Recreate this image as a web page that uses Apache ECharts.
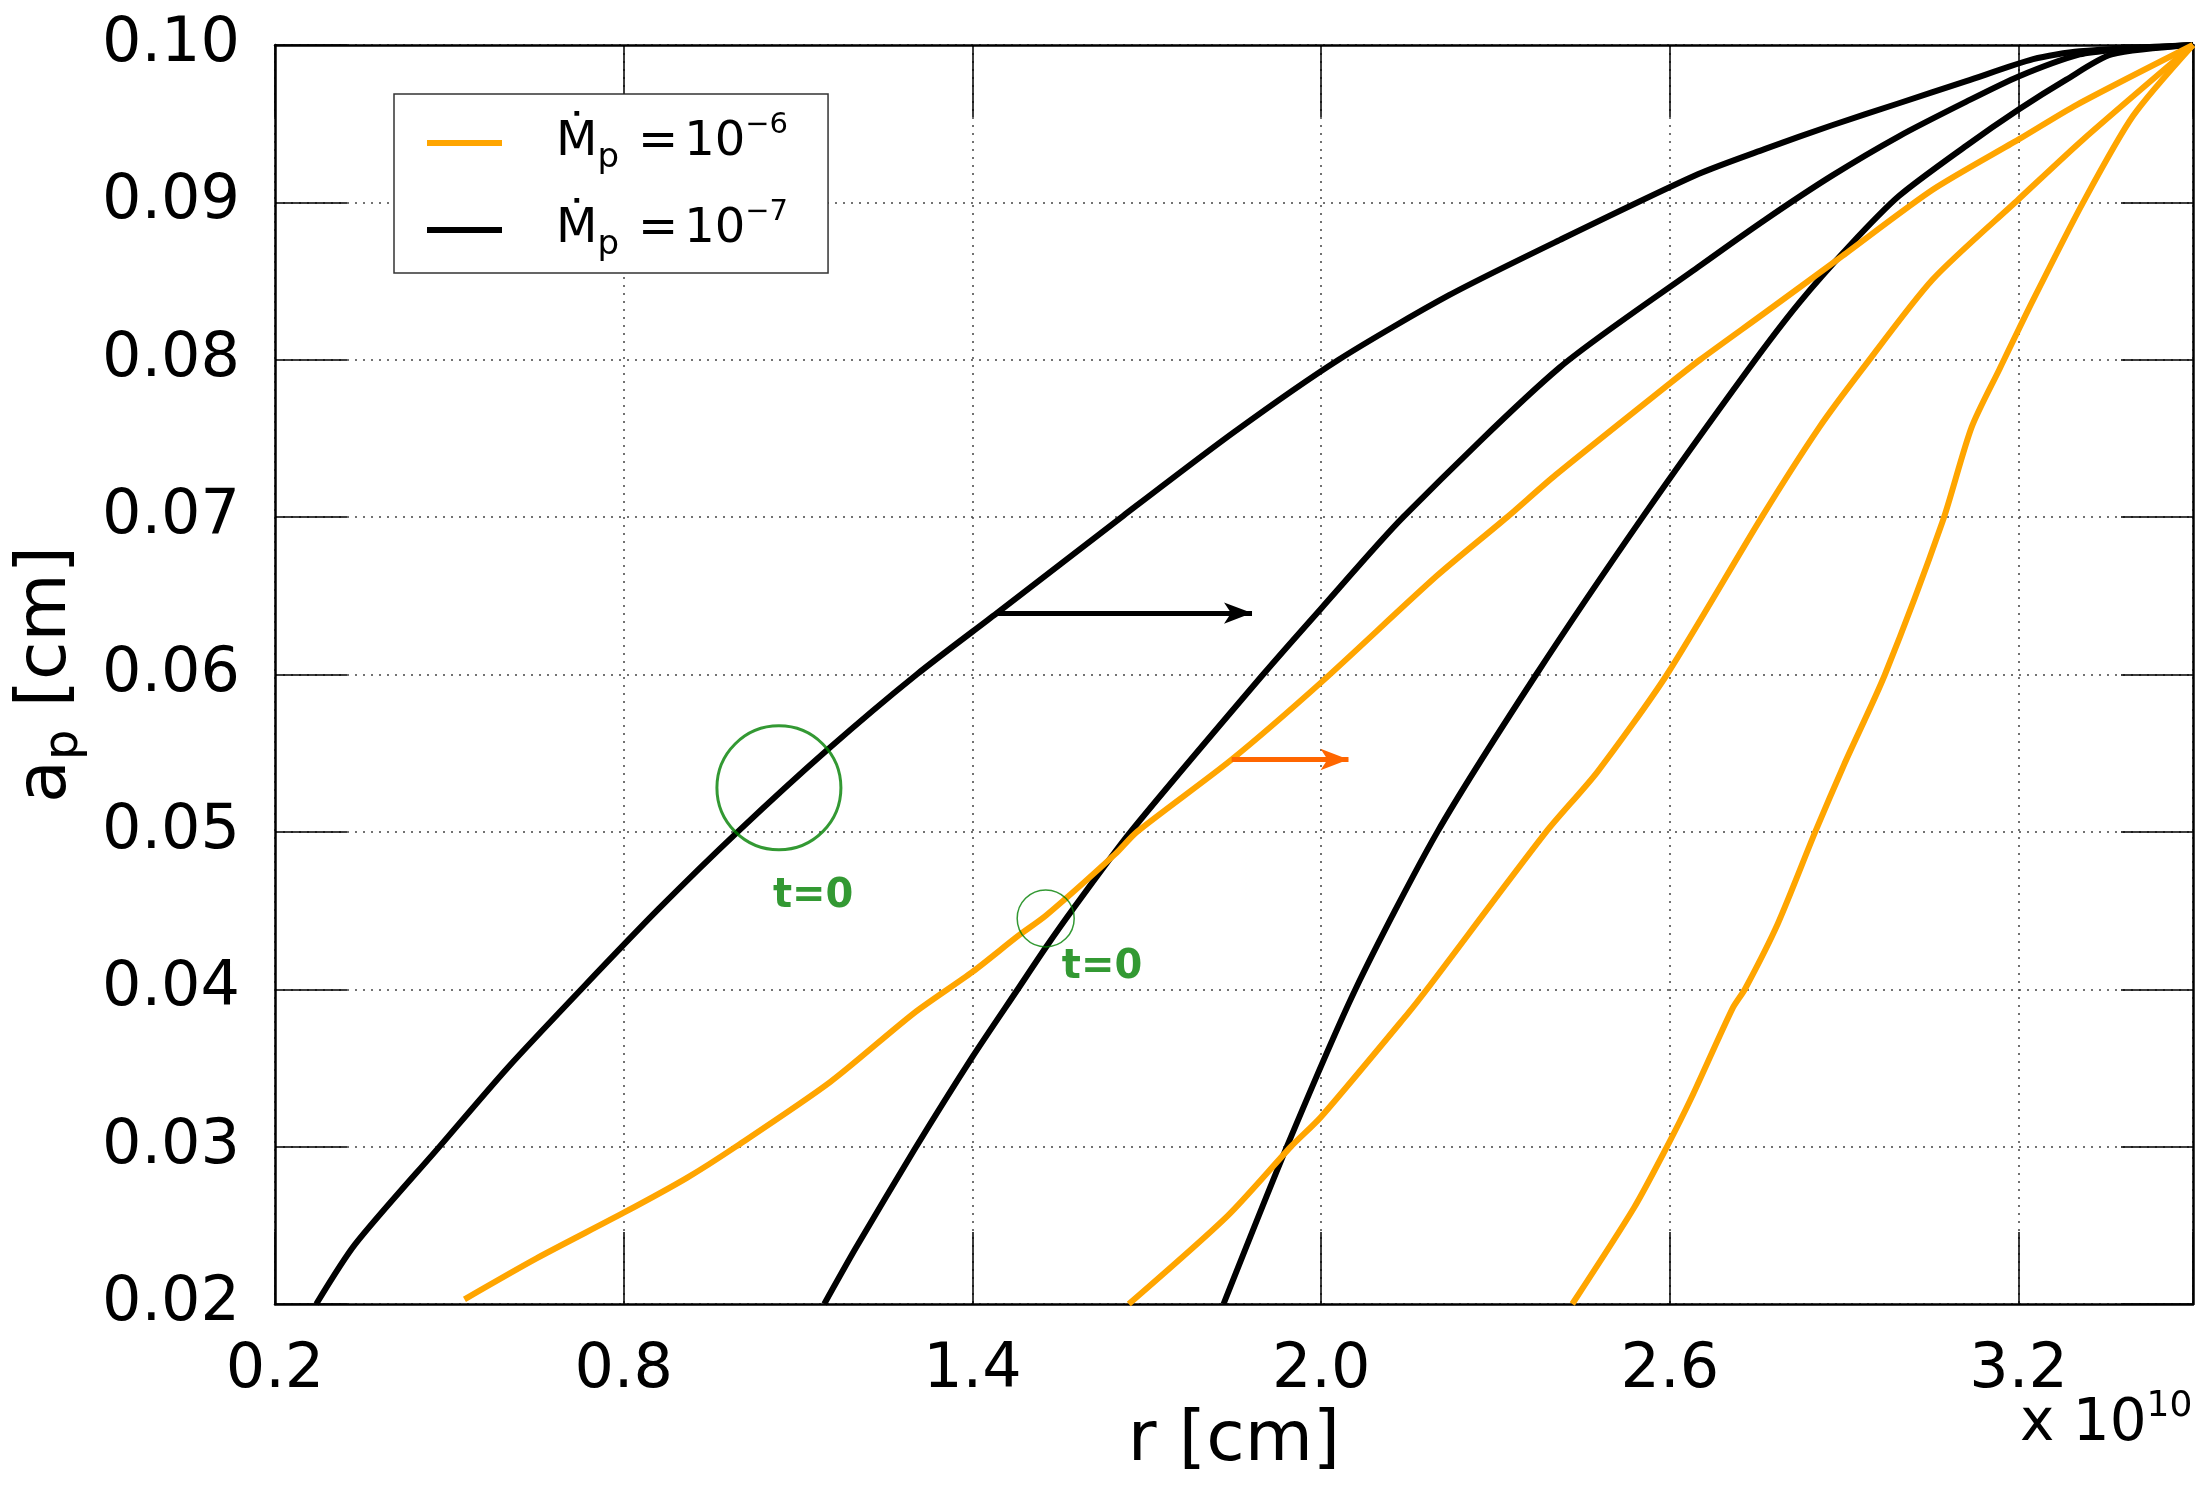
<!DOCTYPE html>
<html>
<head>
<meta charset="utf-8">
<title>a_p vs r</title>
<script src="https://cdn.jsdelivr.net/npm/echarts@6/dist/echarts.min.js"></script>
<style>
  html, body { margin: 0; padding: 0; background: #fff; }
  #chart { width: 2209px; height: 1493px; }
</style>
</head>
<body>
<div id="chart"></div>
<script>
// r in units of 1e10 cm, a_p in cm
// Mdot_p = 1e-7 (black)
const black1 = [[0.271, 0.020], [0.338, 0.0238], [0.483, 0.030], [0.60, 0.0350], [0.727, 0.040],
  [0.86, 0.0451], [0.996, 0.050], [1.15, 0.0552], [1.304, 0.060], [1.442, 0.0639], [1.66, 0.0701],
  [1.85, 0.0754], [2.03, 0.0800], [2.22, 0.0841], [2.41, 0.0876], [2.649, 0.0918], [2.764, 0.0934],
  [2.879, 0.0949], [2.994, 0.0963], [3.11, 0.0977], [3.225, 0.0991], [3.305, 0.0996], [3.5, 0.100]]
const black2 = [[1.145, 0.020], [1.20, 0.0236], [1.30, 0.0298], [1.40, 0.0357], [1.478, 0.040],
  [1.527, 0.0427], [1.573, 0.0451], [1.672, 0.050], [1.90, 0.060], [2.0, 0.0642], [2.141, 0.070],
  [2.41, 0.0795], [2.649, 0.0859], [2.764, 0.0889], [2.879, 0.0917], [2.994, 0.0942], [3.11, 0.0964],
  [3.2, 0.098], [3.305, 0.0994], [3.37, 0.0997], [3.5, 0.100]]
const black3 = [[1.832, 0.020], [1.941, 0.030], [2.059, 0.040], [2.2, 0.050], [2.37, 0.060],
  [2.553, 0.070], [2.735, 0.0794], [2.822, 0.0836], [2.908, 0.0872], [2.994, 0.0904], [3.11, 0.0936],
  [3.2, 0.0959], [3.282, 0.0978], [3.36, 0.0994], [3.5, 0.100]]
// Mdot_p = 1e-6 (orange)
const orange1 = [[0.526, 0.0203], [0.65, 0.0229], [0.80, 0.0258], [0.908, 0.028], [0.993, 0.030],
  [1.155, 0.0341], [1.30, 0.0385], [1.40, 0.0411], [1.479, 0.0434], [1.527, 0.0447], [1.646, 0.0486],
  [1.683, 0.050], [1.846, 0.0546], [2.0, 0.0595], [2.2, 0.0663], [2.32, 0.070], [2.404, 0.0727],
  [2.6, 0.0785], [2.652, 0.080], [2.764, 0.083], [2.897, 0.0866], [3.052, 0.0908], [3.2, 0.094],
  [3.3, 0.0962], [3.5, 0.100]]
const orange2 = [[1.669, 0.020], [1.839, 0.0256], [1.948, 0.030], [2.0, 0.0319], [2.15, 0.0385],
  [2.182, 0.040], [2.387, 0.050], [2.475, 0.0538], [2.595, 0.060], [2.758, 0.070], [2.857, 0.0757],
  [2.931, 0.0794], [3.052, 0.0851], [3.2, 0.0902], [3.311, 0.094], [3.5, 0.100]]
const orange3 = [[2.432, 0.020], [2.538, 0.0261], [2.595, 0.030], [2.637, 0.0331], [2.708, 0.0388],
  [2.729, 0.040], [2.786, 0.0442], [2.85, 0.050], [2.9, 0.0543], [2.97, 0.060], [3.069, 0.0697],
  [3.119, 0.0757], [3.167, 0.0794], [3.225, 0.0838], [3.311, 0.090], [3.397, 0.0955], [3.5, 0.100]]

// axes
const xMin = 0.2, xMax = 3.5, xStep = 0.6
const yMin = 0.02, yMax = 0.10, yStep = 0.01

// annotations (data coords)
const bigCircle = [1.067, 0.0528]
const smallCircle = [1.526, 0.0445]
const t0Labels = [[1.126, 0.0459], [1.623, 0.0414]]
const blackArrow = [[1.442, 0.0639], [1.881, 0.0639]]
const orangeArrow = [[1.846, 0.0546], [2.047, 0.0546]]

const FONT = 'DejaVu Sans'
const ORANGE = '#FFA500'
const GREEN = '#008000'
const legendExp = { p6: '\u22126', p7: '\u22127' }

const chart = echarts.init(document.getElementById('chart'))

function curve(name, data, color) {
  return {
    type: 'line', name, data,
    showSymbol: false, symbol: 'none',
    smooth: 0.25,
    lineStyle: { color, width: 6, join: 'round' },
    itemStyle: { color },
    silent: true, z: 3
  }
}

const axisCommon = {
  type: 'value',
  axisLine: { show: true, onZero: false, lineStyle: { color: '#000', width: 2.5 } },
  axisTick: { show: true, inside: true, length: 72, lineStyle: { color: '#000', width: 1.5 } },
  splitLine: { show: true, lineStyle: { color: '#444', width: 1.5, type: [2, 6] } }
}

const option = {
  animation: false,
  backgroundColor: '#fff',
  grid: { left: 275, right: 16, top: 45, bottom: 189, containLabel: false, outerBoundsMode: 'none' },
  xAxis: [
    {
      ...axisCommon, position: 'bottom', min: xMin, max: xMax, interval: xStep,
      axisLabel: {
        fontFamily: FONT, fontSize: 62, color: '#000', margin: 36,
        formatter: v => Math.abs(v - xMax) < 1e-6 ? '' : v.toFixed(1)
      },
      name: 'r [cm]', nameLocation: 'middle', nameGap: 101,
      nameTextStyle: { fontFamily: FONT, fontSize: 70, color: '#000' }
    },
    {
      ...axisCommon, position: 'top', min: xMin, max: xMax, interval: xStep,
      axisLabel: { show: false }, splitLine: { show: false }
    }
  ],
  yAxis: [
    {
      ...axisCommon, position: 'left', min: yMin, max: yMax, interval: yStep,
      axisLabel: { fontFamily: FONT, fontSize: 62, color: '#000', margin: 35, formatter: v => v.toFixed(2) },
      name: '{a|a}{p|p}{a| [cm]}', nameLocation: 'middle', nameGap: 186, nameRotate: 90,
      nameTextStyle: {
        fontFamily: FONT, fontSize: 70, color: '#000',
        rich: {
          a: { fontFamily: FONT, fontSize: 70, lineHeight: 84 },
          p: { fontFamily: FONT, fontSize: 48, lineHeight: 60, verticalAlign: 'bottom' }
        }
      }
    },
    {
      ...axisCommon, position: 'right', min: yMin, max: yMax, interval: yStep,
      axisLabel: { show: false }, splitLine: { show: false }
    }
  ],
  legend: {
    data: ['p6', 'p7'],
    orient: 'vertical', left: 394, top: 94,
    padding: [17, 40, 11, 33],
    itemGap: 23, itemWidth: 75, itemHeight: 6, icon: 'rect',
    backgroundColor: '#fff', borderColor: '#333', borderWidth: 1.5,
    selectedMode: false,
    textStyle: {
      fontFamily: FONT, fontSize: 48, color: '#000', lineHeight: 64,
      rich: {
        m: { fontFamily: FONT, fontSize: 48, lineHeight: 64, padding: [0, 0, 0, 49] },
        p: { fontFamily: FONT, fontSize: 34, lineHeight: 44, verticalAlign: 'bottom' },
        q: { fontFamily: FONT, fontSize: 48, lineHeight: 64, padding: [0, 6, 0, 19] },
        e: { fontFamily: FONT, fontSize: 48, lineHeight: 64 },
        s: { fontFamily: FONT, fontSize: 29, lineHeight: 40, verticalAlign: 'top' }
      }
    },
    formatter: name => '{m|\u1E40}{p|p}{q|=}{e|10}{s|' + legendExp[name] + '}'
  },
  graphic: [
    {
      type: 'text', x: 2020, y: 1425,
      style: {
        text: '{a|x 10}{b|10}', fill: '#000', verticalAlign: 'middle',
        rich: {
          a: { fontFamily: FONT, fontSize: 58, lineHeight: 72 },
          b: { fontFamily: FONT, fontSize: 36, lineHeight: 44, verticalAlign: 'top' }
        }
      }
    }
  ],
  series: [
    curve('p7', black1, '#000'),
    curve('p7', black2, '#000'),
    curve('p7', black3, '#000'),
    curve('p6', orange1, ORANGE),
    curve('p6', orange2, ORANGE),
    curve('p6', orange3, ORANGE),
    {
      type: 'scatter', name: 'circles', silent: true, z: 5,
      data: [
        { value: bigCircle, symbolSize: 124, itemStyle: { borderWidth: 3 } },
        { value: smallCircle, symbolSize: 57, itemStyle: { borderWidth: 1.5 } }
      ],
      symbol: 'circle',
      itemStyle: { color: 'rgba(0,0,0,0)', borderColor: GREEN }
    },
    {
      type: 'scatter', name: 'labels', silent: true, z: 6,
      data: t0Labels, symbolSize: 0,
      label: {
        show: true, position: 'inside', formatter: 't=0',
        fontFamily: FONT, fontWeight: 'bold', fontSize: 40, color: GREEN
      }
    },
    {
      type: 'line', name: 'arrows', data: [], silent: true,
      markLine: {
        silent: true, animation: false,
        symbol: ['none', 'arrow'], symbolSize: [16, 28],
        label: { show: false },
        emphasis: { disabled: true },
        data: [
          [{ coord: blackArrow[0], lineStyle: { color: '#000', width: 5, type: 'solid' } }, { coord: blackArrow[1] }],
          [{ coord: orangeArrow[0], lineStyle: { color: '#FF6600', width: 5, type: 'solid' } }, { coord: orangeArrow[1] }]
        ]
      }
    }
  ]
}

chart.setOption(option)
window.addEventListener('resize', () => chart.resize())
</script>
</body>
</html>
